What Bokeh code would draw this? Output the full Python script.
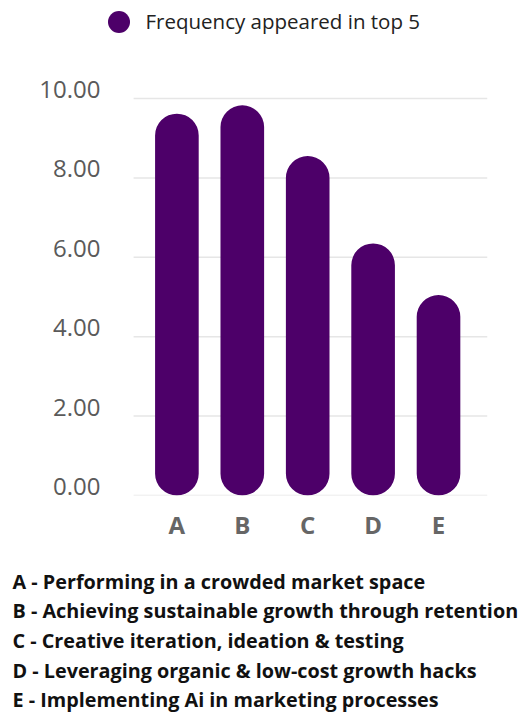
from bokeh.plotting import figure
from bokeh.models import Range1d, FixedTicker, Legend, LegendItem, Title
from bokeh.embed import file_html
from bokeh.resources import INLINE

categories = ["A", "B", "C", "D", "E"]
values = [9.62, 9.83, 8.55, 6.35, 5.05]
y_ticks = [0, 2, 4, 6, 8, 10]
y_tick_labels = ["0.00", "2.00", "4.00", "6.00", "8.00", "10.00"]
descriptions = [
    "A - Performing in a crowded market space",
    "B - Achieving sustainable growth through retention",
    "C - Creative iteration, ideation & testing",
    "D - Leveraging organic & low-cost growth hacks",
    "E - Implementing Ai in marketing processes",
]
legend_label = "Frequency appeared in top 5"
bar_color = "#4D0069"
grid_color = "#e6e6e6"
FONT = "Open Sans"

xs = list(range(len(categories)))
label_lift = 0.227          # tick labels sit on top of their grid line
grid_x0, x_start, x_end = -0.662, -1.168, 4.749

p = figure(frame_width=387, frame_height=495, output_backend="svg", toolbar_location=None,
           x_range=Range1d(x_start, x_end), y_range=Range1d(0, 12.47),
           min_border_left=100, min_border_right=41, min_border_top=0,
           min_border_bottom=218)
p.outline_line_color = None
p.xgrid.visible = False
p.ygrid.visible = False

# horizontal grid lines (only across the plotting area, not under the labels)
p.segment(x0=[grid_x0] * len(y_ticks), x1=[x_end] * len(y_ticks),
          y0=y_ticks, y1=y_ticks, line_color=grid_color, line_width=1.5)

p.vbar(x=xs, top=values, bottom=0, width=0.667, fill_color=bar_color,
       line_color=None, border_radius=22)

# legend swatch renderer (kept outside of the visible range)
dummy = p.scatter(x=[0], y=[-50], size=22, fill_color=bar_color, line_color=None)

legend = Legend(items=[LegendItem(label=legend_label, renderers=[dummy])],
                location=(-9.5, 446.5), orientation="horizontal",
                glyph_width=55, glyph_height=55, label_height=55,
                label_standoff=0, padding=0, margin=0,
                border_line_color=None, background_fill_alpha=0,
                label_text_font=FONT, label_text_font_size="20.5px",
                label_text_color="#222222")
p.add_layout(legend)

# y axis
lifted = [v + label_lift for v in y_ticks]
p.yaxis.ticker = FixedTicker(ticks=lifted)
p.yaxis.major_label_overrides = {t: s for t, s in zip(lifted, y_tick_labels)}
p.yaxis.axis_line_color = None
p.yaxis.major_tick_line_color = None
p.yaxis.minor_tick_line_color = None
p.yaxis.major_tick_out = 0
p.yaxis.major_tick_in = 0
p.yaxis.major_label_text_font = FONT
p.yaxis.major_label_text_font_size = "24px"
p.yaxis.major_label_text_color = "#5a5a5a"
p.yaxis.major_label_standoff = 0

# x axis
p.xaxis.ticker = FixedTicker(ticks=xs)
p.xaxis.major_label_overrides = {i: c for i, c in zip(xs, categories)}
p.xaxis.axis_line_color = None
p.xaxis.major_tick_line_color = None
p.xaxis.minor_tick_line_color = None
p.xaxis.major_tick_out = 0
p.xaxis.major_tick_in = 0
p.xaxis.major_label_text_font = FONT
p.xaxis.major_label_text_font_size = "24px"
p.xaxis.major_label_text_font_style = "bold"
p.xaxis.major_label_text_color = "#666666"
p.xaxis.major_label_standoff = 12

desc = Title(text="\n".join(descriptions), align="left", offset=-88, standoff=44,
             text_font=FONT, text_font_size="19.8px", text_font_style="bold",
             text_color="#111111", text_line_height=1.1)
p.add_layout(desc, "below")

open("out.html", "w").write(file_html(p, INLINE))
